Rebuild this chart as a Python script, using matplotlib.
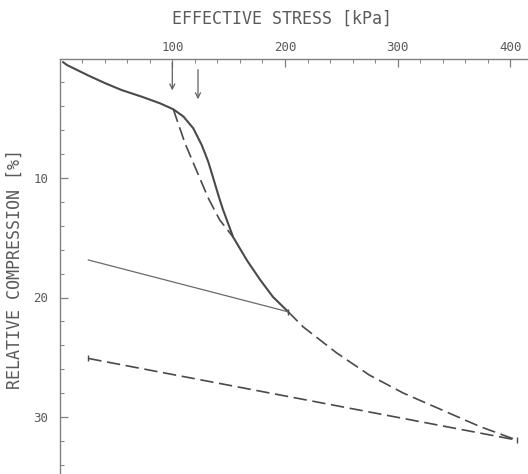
"""
Oedometer curve: relative compression vs effective stress.
"""

import matplotlib

matplotlib.use("Agg")
import matplotlib.pyplot as plt
from matplotlib.ticker import FixedLocator, MultipleLocator

# measured curve (solid)
stress_meas = [3, 6.6, 25, 40, 55, 73, 89.1, 100.9, 109.8, 118.6, 126.1,
               131.9, 136.4, 140.8, 144.8, 154, 166.3, 177.8, 189.4, 202.9]
comp_meas = [0.3, 0.55, 1.4, 2.05, 2.64, 3.2, 3.75, 4.25, 4.85, 5.84, 7.24,
             8.64, 10.03, 11.42, 12.6, 14.95, 16.9, 18.5, 19.96, 21.2]

# corrected branch below preconsolidation (dashed)
stress_corr = [100.9, 111.3, 121.6, 132, 142, 154]
comp_corr = [4.25, 7.1, 9.4, 11.7, 13.5, 14.95]

# extrapolated virgin curve (dashed)
stress_extr = [202.9, 216, 246, 275, 305, 373, 405.6]
comp_extr = [21.2, 22.45, 24.65, 26.5, 28.0, 30.8, 31.93]

# tangent at the last load step (thin)
stress_tan = [25.5, 202.9]
comp_tan = [16.86, 21.2]

# unloading line (dashed)
stress_unl = [25.5, 405.6]
comp_unl = [25.1, 31.93]

# arrows marking preconsolidation estimates
arrow_x = [100, 122.8]
arrow_top = [0.1, 0.7]
arrow_tip = [2.9, 3.64]

xticks_major = [100, 200, 300, 400]
yticks_major = [10, 20, 30]

INK = "#4a4a4a"
AXC = "#808080"
TXT = "#5a5a5a"
FONT = "DejaVu Sans Mono"

W, H = 528, 474
x0_px, y0_px = 59.6, 58.5
px_per_kpa, px_per_pct = 1.127, 11.95

fig = plt.figure(figsize=(W / 100, H / 100), dpi=100)
fig.patch.set_facecolor("white")
ax = fig.add_axes([x0_px / W, 0, 1 - x0_px / W, 1 - y0_px / H])

ax.set_xlim(0, (W - x0_px) / px_per_kpa)
ax.set_ylim((H - y0_px) / px_per_pct, 0)

dash = (8, 3.4)
ax.plot(stress_meas, comp_meas, color=INK, lw=1.5, solid_capstyle="round",
        solid_joinstyle="round")
ax.plot(stress_corr, comp_corr, color=INK, lw=1.2, dashes=dash)
ax.plot(stress_extr, comp_extr, color=INK, lw=1.2, dashes=dash)
ax.plot(stress_tan, comp_tan, color="#6a6a6a", lw=0.9)
ax.plot(stress_unl, comp_unl, color=INK, lw=1.2, dashes=dash)
ax.plot([stress_meas[-1]], [comp_meas[-1]], marker="|", ms=5, color=INK)
ax.plot(stress_unl, comp_unl, ls="none", marker="|", ms=5, color=INK)

for xa, yt, yh in zip(arrow_x, arrow_top, arrow_tip):
    ax.annotate("", xy=(xa, yh), xytext=(xa, yt),
                arrowprops=dict(arrowstyle="->", color="#606060", lw=0.9,
                                mutation_scale=9))

for side in ("right", "bottom"):
    ax.spines[side].set_visible(False)
for side in ("top", "left"):
    ax.spines[side].set_color(AXC)
    ax.spines[side].set_linewidth(1.0)

ax.xaxis.tick_top()
ax.xaxis.set_major_locator(FixedLocator(xticks_major))
ax.xaxis.set_minor_locator(MultipleLocator(20))
ax.yaxis.set_major_locator(FixedLocator(yticks_major))
ax.yaxis.set_minor_locator(MultipleLocator(2))
ax.tick_params(which="both", direction="in", colors=AXC, labelcolor=TXT,
               labelsize=9)
ax.tick_params(which="major", length=6, width=0.9)
ax.tick_params(which="minor", length=3, width=0.7)
ax.tick_params(axis="x", pad=3)
ax.tick_params(axis="y", pad=8)
for lab in ax.get_xticklabels() + ax.get_yticklabels():
    lab.set_family(FONT)

fig.text(282 / W, 1 - 18.5 / H, "EFFECTIVE STRESS [kPa]", ha="center",
         va="center", family=FONT, fontsize=12, color=TXT)
fig.text(15 / W, 1 - 269 / H, "RELATIVE COMPRESSION [%]", ha="center",
         va="center", rotation=90, family=FONT, fontsize=12, color=TXT)

fig.savefig("out.png", dpi=100, facecolor="white")
